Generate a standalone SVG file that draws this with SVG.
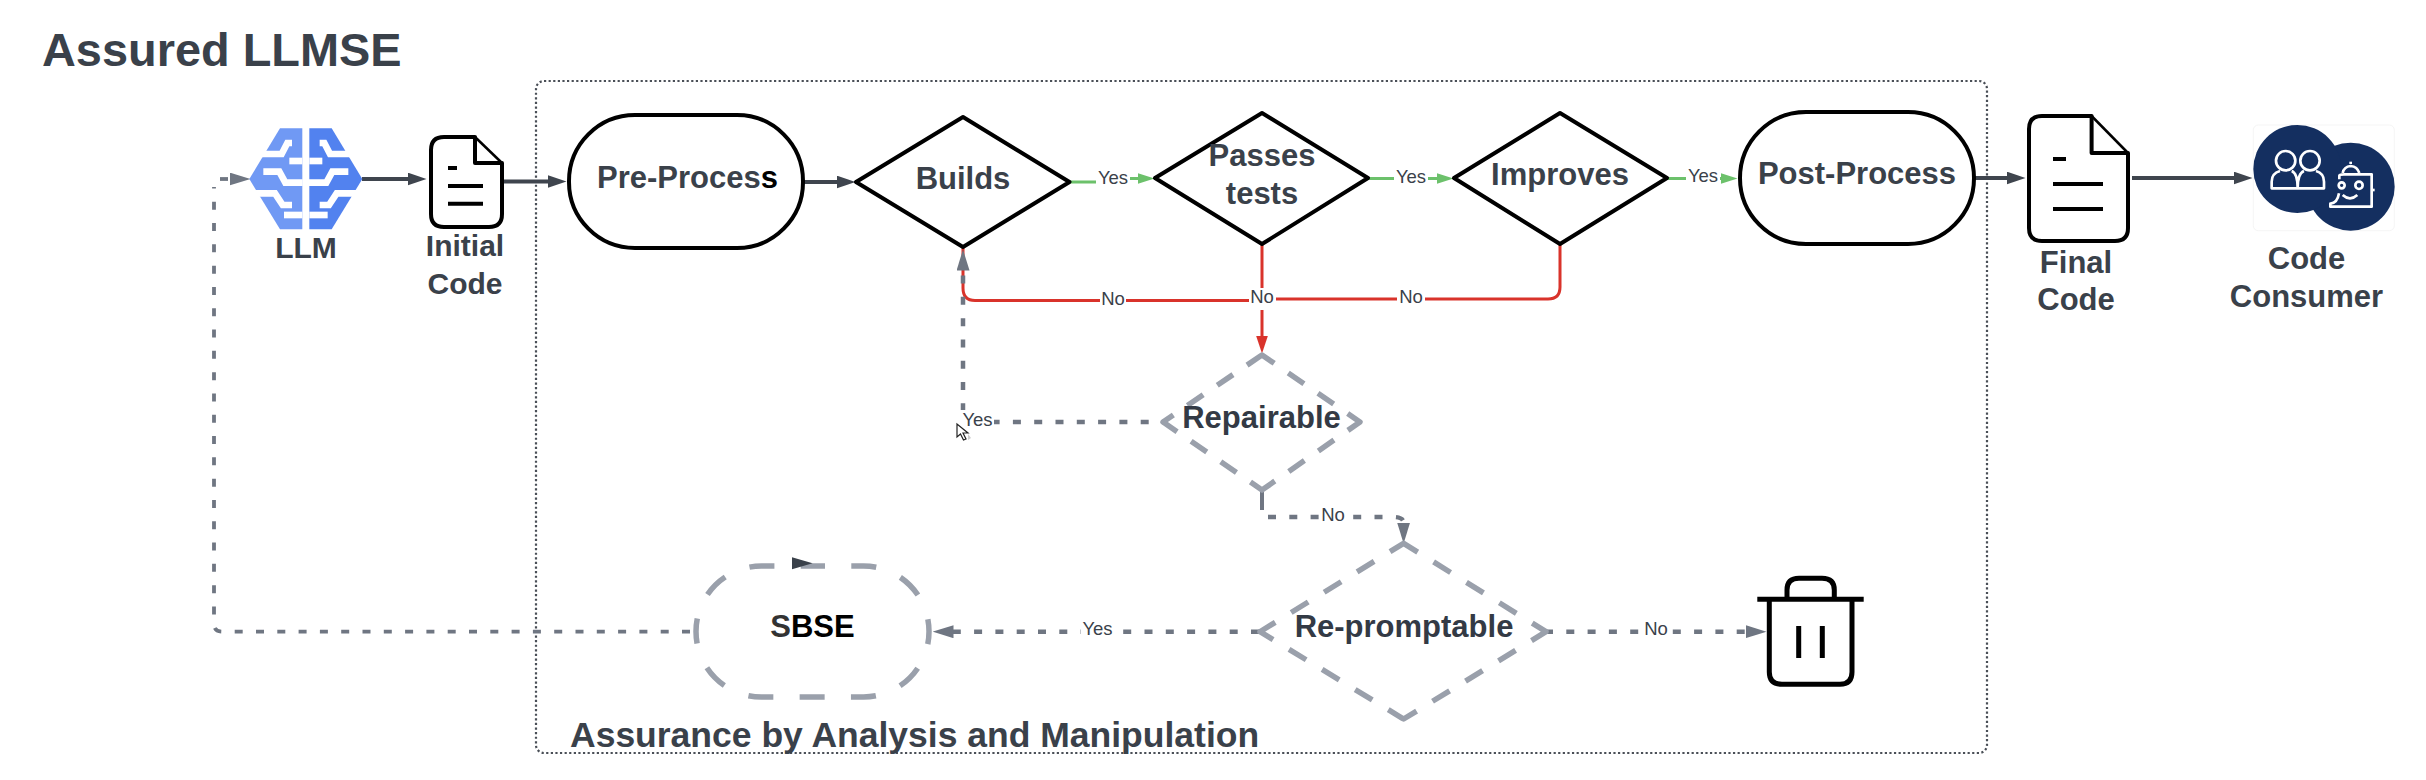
<svg xmlns="http://www.w3.org/2000/svg" width="2426" height="780" viewBox="0 0 2426 780">
<style>
text{font-family:"Liberation Sans",Arial,sans-serif;fill:#3a414a}
.b{font-weight:700;font-size:31px;text-anchor:middle}
.l{font-size:18.5px;text-anchor:middle}
.n{fill:#fff;stroke:#000;stroke-width:4;stroke-linejoin:round}
.d{fill:#fff;stroke:#9aa0ab;stroke-width:5.5;stroke-linejoin:round}
.dark{fill:none;stroke:#3f454e;stroke-width:4}
.grey{fill:none;stroke:#6f7682;stroke-width:4.5;stroke-dasharray:8 13.3}
.green{fill:none;stroke:#6cc16b;stroke-width:3}
.red{fill:none;stroke:#d9332b;stroke-width:3}
.ink{fill:none;stroke:#000;stroke-width:5}
.w{fill:#fff;stroke:none}
.cut{fill:none;stroke:#fff;stroke-width:20}
.ic{fill:none;stroke:#fff;stroke-width:8;stroke-linejoin:round}
</style>
<defs>
<marker id="aD" markerUnits="userSpaceOnUse" markerWidth="19" markerHeight="13" refX="0.5" refY="6.5" orient="auto"><path d="M0,0L19,6.5L0,13Z" fill="#3f454e"/></marker>
<marker id="aG" markerUnits="userSpaceOnUse" markerWidth="21" markerHeight="13" refX="0.5" refY="6.5" orient="auto"><path d="M0,0L21,6.5L0,13Z" fill="#6f7682"/></marker>
<marker id="aN" markerUnits="userSpaceOnUse" markerWidth="17" markerHeight="11" refX="0.5" refY="5.5" orient="auto"><path d="M0,0L17,5.5L0,11Z" fill="#6cc16b"/></marker>
<marker id="aR" markerUnits="userSpaceOnUse" markerWidth="18" markerHeight="12" refX="0.5" refY="6" orient="auto"><path d="M0,0L18,6L0,12Z" fill="#d9332b"/></marker>
<g id="cuts"><path class="cut" d="M85,132H155L172,99H186"/>
<path class="cut" d="M178,153H217"/>
<path class="cut" d="M100,185H148L166,218H218"/>
<path class="cut" d="M72,250H135L158,285H186"/>
<path class="cut" d="M162,315H217"/></g>
</defs>
<rect width="2426" height="780" fill="#fff"/>
<text id="title" x="42" y="66" font-size="46.9" font-weight="700">Assured LLMSE</text>
<g id="boundary"><rect x="536" y="81" width="1451" height="672" rx="8" fill="none" stroke="#4a4f57" stroke-width="2.2" stroke-dasharray="2.2 2.4"/>
<text x="570" y="747" font-size="35.5" font-weight="700">Assurance by Analysis and Manipulation</text></g>
<g id="connectors">
<path class="dark" d="M362,179H408" marker-end="url(#aD)"/>
<path class="dark" d="M502,181.5H548" marker-end="url(#aD)"/>
<path class="dark" d="M803,182H837" marker-end="url(#aD)"/>
<path class="dark" d="M1974,178H2007" marker-end="url(#aD)"/>
<path class="dark" d="M2132,178H2234" marker-end="url(#aD)"/>
<path class="green" d="M1069,182H1112V178.5H1138" marker-end="url(#aN)"/>
<path class="green" d="M1368,178.5H1437" marker-end="url(#aN)"/>
<path class="green" d="M1667,178.5H1721" marker-end="url(#aN)"/>
<path class="red" d="M963,247V288Q963,300.5 975,300.5H1262"/>
<path class="red" d="M1560,244V287Q1560,299 1548,299H1262"/>
<path class="red" d="M1262,244V336" stroke-width="3.5" marker-end="url(#aR)"/>
<path class="grey" stroke-dashoffset="7" d="M1163,422H975Q963,422 963,410V270" marker-end="url(#aG)"/>
<path d="M1262,490V510" fill="none" stroke="#6f7682" stroke-width="4"/>
<path class="grey" d="M1268,517H1393Q1403.6,517 1403.6,523" marker-end="url(#aG)"/>
<path class="grey" d="M1259,631.7H953" marker-end="url(#aG)"/>
<path class="grey" stroke-dashoffset="15.3" style="stroke-width:3.8" d="M696,631.7H222Q214,631.7 214,623.7V187"/>
<path class="grey" style="stroke-width:3.8" d="M220,179H230" marker-end="url(#aG)"/>
<path class="grey" d="M1545,631.7H1746" marker-end="url(#aG)"/>
<rect class="w" x="1096" y="168" width="34" height="20"/><text class="l" x="1113" y="184">Yes</text>
<rect class="w" x="1394" y="168" width="34" height="20"/><text class="l" x="1411" y="183">Yes</text>
<rect class="w" x="1686" y="168" width="34" height="20"/><text class="l" x="1703" y="182">Yes</text>
<rect class="w" x="1100" y="290" width="26" height="20"/><text class="l" x="1113" y="305">No</text>
<rect class="w" x="1249" y="288" width="27" height="22"/><text class="l" x="1262" y="303">No</text>
<rect class="w" x="1397" y="288" width="28" height="20"/><text class="l" x="1411" y="303">No</text>
<rect class="w" x="960" y="410" width="34" height="20"/><text class="l" x="977.5" y="426">Yes</text>
<rect class="w" x="1320" y="506" width="26" height="20"/><text class="l" x="1333" y="521">No</text>
<rect class="w" x="1081" y="620" width="33" height="20"/><text class="l" x="1097.5" y="635">Yes</text>
<rect class="w" x="1643" y="620" width="26" height="20"/><text class="l" x="1656" y="635">No</text>
</g>
<g id="llm"><g transform="translate(230,110) scale(.33333)"><path d="M150,55H217V358H150L58,207Z" fill="#7099f4"/><use href="#cuts"/><g transform="translate(455,0) scale(-1,1)"><path d="M150,55H217V358H150L58,207Z" fill="#5282ef"/><use href="#cuts"/></g></g>
<text class="b" x="306" y="258" style="font-size:30px">LLM</text></g>
<g id="initial-code"><path class="n" d="M475,137H444Q431,137 431,150V214Q431,227 444,227H489Q502,227 502,214V163H475Z"/><path d="M475,137L502,163" stroke="#000" stroke-width="2.5"/>
<path class="ink" d="M448,168H457M448,186H483M448,203.7H483" style="stroke-width:4"/>
<text class="b" x="465" y="256" style="font-size:30px">Initial</text><text class="b" x="465" y="294" style="font-size:30px">Code</text></g>
<g id="pre-process"><rect class="n" x="569" y="115" width="234" height="133" rx="66" ry="66"/><text class="b" x="687.5" y="188">Pre-Proces<tspan fill="#000">s</tspan></text></g>
<g id="builds"><path class="n" d="M963,117L1069.5,182L963,247L856,182Z"/><text class="b" x="963" y="189">Builds</text></g>
<g id="passes-tests"><path class="n" d="M1262,113L1368,178L1262,244L1155,178Z"/><text class="b" x="1262" y="166">Passes</text><text class="b" x="1262" y="204">tests</text></g>
<g id="improves"><path class="n" d="M1560,113L1667,178L1560,244L1454,178Z"/><text class="b" x="1560" y="185">Improves</text></g>
<g id="post-process"><rect class="n" x="1740" y="112" width="234" height="132" rx="66" ry="66"/><text class="b" x="1857" y="184">Post-Process</text></g>
<g id="final-code"><path class="n" d="M2091.6,116H2042Q2029,116 2029,129V228Q2029,241 2042,241H2115Q2128,241 2128,228V153H2091.6Z"/><path d="M2091.6,116L2128,153" stroke="#000" stroke-width="2.5"/>
<path class="ink" d="M2053,159H2066M2053,184H2103M2053,209H2103" style="stroke-width:4"/>
<text class="b" x="2076" y="273">Final</text><text class="b" x="2076" y="310">Code</text></g>
<g id="code-consumer"><rect x="2253.3" y="125" width="141" height="105.7" rx="5" fill="#fff" stroke="#f5f5f5" stroke-width="1"/>
<g transform="translate(2220,110) scale(.33333)"><circle cx="392" cy="230" r="132" fill="#142f60"/><circle cx="232" cy="177" r="132" fill="#142f60"/>
<circle class="ic" cx="197" cy="152" r="29"/><circle class="ic" cx="270" cy="152" r="29"/>
<path class="ic" d="M180,183Q155,190 155,215V235H312V215Q312,190 288,183M215,183Q233,190 233,235M252,183Q233,190 233,235"/>
<path class="ic" d="M358,208V197Q358,193 372,193H455V290H331V281Q352,280 357,250M368,189Q372,170 392,168Q412,170 418,189"/>
<circle class="ic" cx="365" cy="226" r="9"/><circle class="ic" cx="417" cy="226" r="11"/><path class="ic" d="M368,255Q390,275 412,255"/><path class="ic" d="M456,240H464"/><path class="ic" d="M392,155V162"/></g>
<text class="b" x="2306.5" y="269">Code</text><text class="b" x="2306.5" y="307">Consumer</text></g>
<g id="repairable"><path class="d" stroke-dasharray="14.8 17 19 17 19 17 14.8 0" d="M1262,355L1360,422L1262,490L1163,422Z"/><text class="b" x="1261.5" y="428" style="fill:#333a45">Repairable</text></g>
<g id="re-promptable"><path class="d" stroke-dasharray="16.6 18.7 20 18.7 20 18.7 20 18.7 16.6 0" d="M1403.6,543.3L1546,631.7L1403.6,719L1260,631.7Z"/><text class="b" x="1404" y="637" style="fill:#333a45">Re-promptable</text></g>
<g id="sbse"><path class="d" d="M812.5,566H863.5A65.5,65.5 0 0 1 863.5,697H761.5A65.5,65.5 0 0 1 761.5,566Z" stroke-dasharray="25 26.3" stroke-dashoffset="12.5"/><path d="M792,557.3L812.6,563.3L792,569.3Z" fill="#3a414a"/><text class="b" x="812.5" y="637" style="fill:#000"><tspan fill="#333">S</tspan>BSE</text></g>
<g id="discard"><path class="ink" d="M1757.3,599.3H1863.7M1769.3,599.3V672Q1769.3,684.3 1782,684.3H1840Q1852,684.3 1852,672V599.3M1787,599.3V590Q1787,578.3 1799,578.3H1822Q1834.3,578.3 1834.3,590V599.3M1798.7,626V658M1822.3,626V658"/></g>
<g id="cursor"><path d="M957,424V437L960.5,434L963.5,440L966,439L963,433H968Z" fill="#fff" stroke="#222" stroke-width="1.2"/><path d="M968,434L971,438L968,440Z" fill="#ccc"/></g>
</svg>
